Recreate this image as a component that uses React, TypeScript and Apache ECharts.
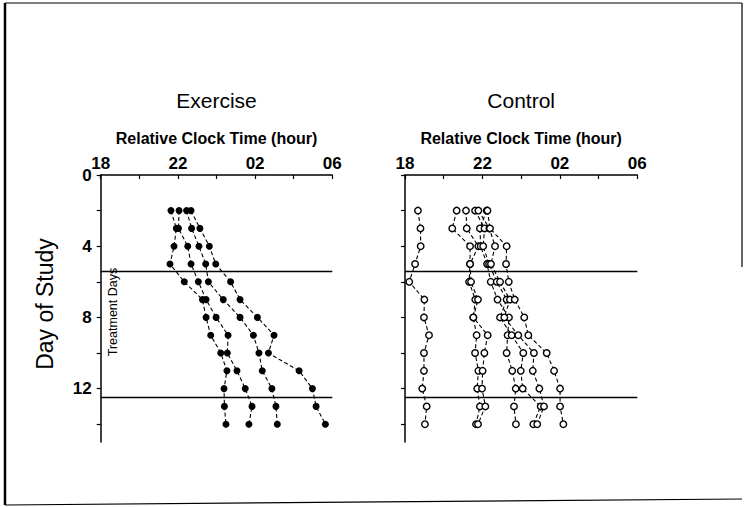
import React, { useEffect, useRef } from "react";
import * as echarts from "echarts";

// Day of study for each measured point
const days = [2, 3, 4, 5, 6, 7, 8, 9, 10, 11, 12, 13, 14];

// Exercise group: relative clock time (hours, 18 = 18:00, 30 = 06:00 next day)
const exerciseA = [21.64, 21.92, 21.8, 21.59, 22.33, 23.27, 23.46, 23.7, 24.22, 24.54, 24.39, 24.41, 24.49];
const exerciseB = [22.06, 22.03, 22.51, 22.68, 23.06, 23.46, 23.98, 24.6, 24.56, 25.06, 25.49, 25.84, 25.68];
const exerciseC = [22.45, 22.71, 23.09, 23.44, 23.58, 24.35, 25.22, 25.91, 26.2, 26.37, 26.87, 27.08, 27.15];
const exerciseD = [22.68, 23.14, 23.63, 23.96, 24.73, 25.22, 26.12, 26.98, 26.69, 28.28, 28.97, 29.16, 29.64];

// Control group
const controlA = [18.67, 18.8, 18.81, 18.52, 18.22, 19.0, 18.98, 19.24, 18.98, 18.98, 18.89, 19.12, 19.03];
const controlB = [20.67, 20.44, 21.36, 21.36, 21.31, 21.63, 21.53, 21.7, 21.62, 21.79, 21.73, 21.87, 21.67];
const controlC = [21.15, 21.19, 21.79, 21.36, 21.41, 21.77, 21.53, 22.27, 22.1, 22.01, 21.98, 22.15, 21.77];
const controlD = [22.22, 21.87, 21.91, 22.24, 22.43, 22.78, 23.37, 23.3, 23.25, 23.54, 23.72, 23.63, 23.73];
const controlE = [21.62, 22.11, 22.04, 22.34, 22.74, 23.25, 22.91, 23.51, 24.11, 23.98, 24.08, 25.01, 24.63];
const controlF = [21.79, 22.36, 22.65, 22.44, 22.91, 23.42, 23.13, 23.85, 24.66, 24.6, 24.94, 25.18, 24.83];
const controlG = [22.26, 22.39, 23.25, 23.22, 23.36, 23.67, 24.16, 24.37, 25.32, 25.7, 26.01, 26.01, 26.18];

const exerciseSeries = [exerciseA, exerciseB, exerciseC, exerciseD];
const controlSeries = [controlA, controlB, controlC, controlD, controlE, controlF, controlG];

// Treatment period boundaries (day of study)
const treatmentBounds = [5.4, 12.5];

// Axis ticks / labels
const hourTickValues = [18, 20, 22, 24, 26, 28, 30];
const hourLabelValues = [18, 22, 26, 30];
const dayTickValues = [0, 2, 4, 6, 8, 10, 12, 14];
const dayLabelValues = [0, 4, 8, 12];

const panelTitles = ["Exercise", "Control"];
const xAxisTitle = "Relative Clock Time (hour)";
const yAxisTitle = "Day of Study";
const treatmentLabel = "Treatment Days";

const FONT = "'Liberation Sans', Arial, Helvetica, sans-serif";

function hourLabel(v: number): string {
  const h = ((v % 24) + 24) % 24;
  return String(h).padStart(2, "0");
}

export default function App() {
  const ref = useRef<HTMLDivElement>(null);

  useEffect(() => {
    if (!ref.current) return;
    const chart = echarts.init(ref.current, undefined, { renderer: "svg" });

    const grids = [
      { left: 100.7, top: 175, width: 231.6, height: 267 },
      { left: 405, top: 175, width: 232.3, height: 267 },
    ];

    const axisLineStyle = { color: "#000", width: 1.5 };

    const xAxes = grids.map((_, i) => ({
      gridIndex: i,
      type: "value",
      position: "top",
      min: 18,
      max: 30,
      interval: 2,
      axisLine: { show: true, onZero: false, lineStyle: axisLineStyle },
      axisTick: {
        show: true,
        inside: true,
        length: 4,
        customValues: hourTickValues,
        lineStyle: { color: "#000", width: 1.2 },
      },
      axisLabel: {
        show: true,
        customValues: hourLabelValues,
        formatter: (v: number) => (hourLabelValues.includes(v) ? hourLabel(v) : ""),
        fontFamily: FONT,
        fontSize: 17,
        fontWeight: "bold",
        color: "#000",
        margin: 3,
      },
      splitLine: { show: false },
    }));

    const yAxes = grids.map((_, i) => ({
      gridIndex: i,
      type: "value",
      inverse: true,
      min: 0,
      max: 15,
      interval: 2,
      axisLine: { show: true, onZero: false, lineStyle: axisLineStyle },
      axisTick: {
        show: true,
        inside: false,
        length: 4,
        customValues: dayTickValues,
        lineStyle: { color: "#000", width: 1.2 },
      },
      axisLabel: {
        show: i === 0,
        customValues: dayLabelValues,
        formatter: (v: number) => (dayLabelValues.includes(v) ? String(v) : ""),
        fontFamily: FONT,
        fontSize: 17,
        fontWeight: "bold",
        color: "#000",
        margin: 9,
      },
      splitLine: { show: false },
    }));

    const makeMarkLine = () => ({
      silent: true,
      symbol: ["none", "none"],
      label: { show: false },
      lineStyle: { color: "#000", width: 1.3, type: "solid" },
      data: treatmentBounds.map((v) => ({ yAxis: v })),
    });

    const series: any[] = [];
    exerciseSeries.forEach((vals, idx) => {
      series.push({
        type: "line",
        xAxisIndex: 0,
        yAxisIndex: 0,
        data: days.map((d, i) => [vals[i], d]),
        symbol: "circle",
        symbolSize: 7,
        showAllSymbol: true,
        lineStyle: { color: "#000", width: 1.1, type: [4, 2.5] },
        itemStyle: { color: "#000" },
        silent: true,
        markLine: idx === 0 ? makeMarkLine() : undefined,
      });
    });
    controlSeries.forEach((vals, idx) => {
      series.push({
        type: "line",
        xAxisIndex: 1,
        yAxisIndex: 1,
        data: days.map((d, i) => [vals[i], d]),
        symbol: "circle",
        symbolSize: 6.5,
        showAllSymbol: true,
        lineStyle: { color: "#000", width: 1.1, type: [4, 2.5] },
        itemStyle: { color: "#fff", borderColor: "#000", borderWidth: 1.4 },
        silent: true,
        markLine: idx === 0 ? makeMarkLine() : undefined,
      });
    });

    const centers = grids.map((g) => g.left + g.width / 2);

    const graphic: any[] = [
      // frame
      { type: "line", shape: { x1: 5, y1: 3, x2: 742, y2: 3 }, style: { stroke: "#000", lineWidth: 1.2 } },
      { type: "line", shape: { x1: 5, y1: 3, x2: 5, y2: 505 }, style: { stroke: "#000", lineWidth: 2.5 } },
      { type: "line", shape: { x1: 5, y1: 505, x2: 742, y2: 499 }, style: { stroke: "#000", lineWidth: 1.2 } },
      { type: "line", shape: { x1: 742, y1: 3, x2: 742, y2: 267 }, style: { stroke: "#000", lineWidth: 1.2 } },
    ];
    panelTitles.forEach((t, i) => {
      graphic.push({
        type: "text",
        x: centers[i],
        y: 100,
        style: {
          text: t,
          fontFamily: FONT,
          fontSize: 21,
          fill: "#000",
          textAlign: "center",
          textVerticalAlign: "middle",
        },
      });
      graphic.push({
        type: "text",
        x: centers[i],
        y: 138,
        style: {
          text: xAxisTitle,
          fontFamily: FONT,
          fontSize: 16,
          fontWeight: "bold",
          fill: "#000",
          textAlign: "center",
          textVerticalAlign: "middle",
        },
      });
    });
    graphic.push({
      type: "text",
      x: 45,
      y: 304,
      rotation: Math.PI / 2,
      style: {
        text: yAxisTitle,
        fontFamily: FONT,
        fontSize: 23,
        fill: "#000",
        textAlign: "center",
        textVerticalAlign: "middle",
      },
    });
    graphic.push({
      type: "text",
      x: 113,
      y: 312,
      rotation: Math.PI / 2,
      style: {
        text: treatmentLabel,
        fontFamily: FONT,
        fontSize: 12.5,
        fill: "#000",
        textAlign: "center",
        textVerticalAlign: "middle",
      },
    });

    chart.setOption({
      animation: false,
      backgroundColor: "#fff",
      grid: grids,
      xAxis: xAxes,
      yAxis: yAxes,
      series,
      graphic,
    });

    return () => {
      chart.dispose();
    };
  }, []);

  return (
    <div
      ref={ref}
      style={{ position: "fixed", left: 0, top: 0, width: 744, height: 507, background: "#fff" }}
    />
  );
}
